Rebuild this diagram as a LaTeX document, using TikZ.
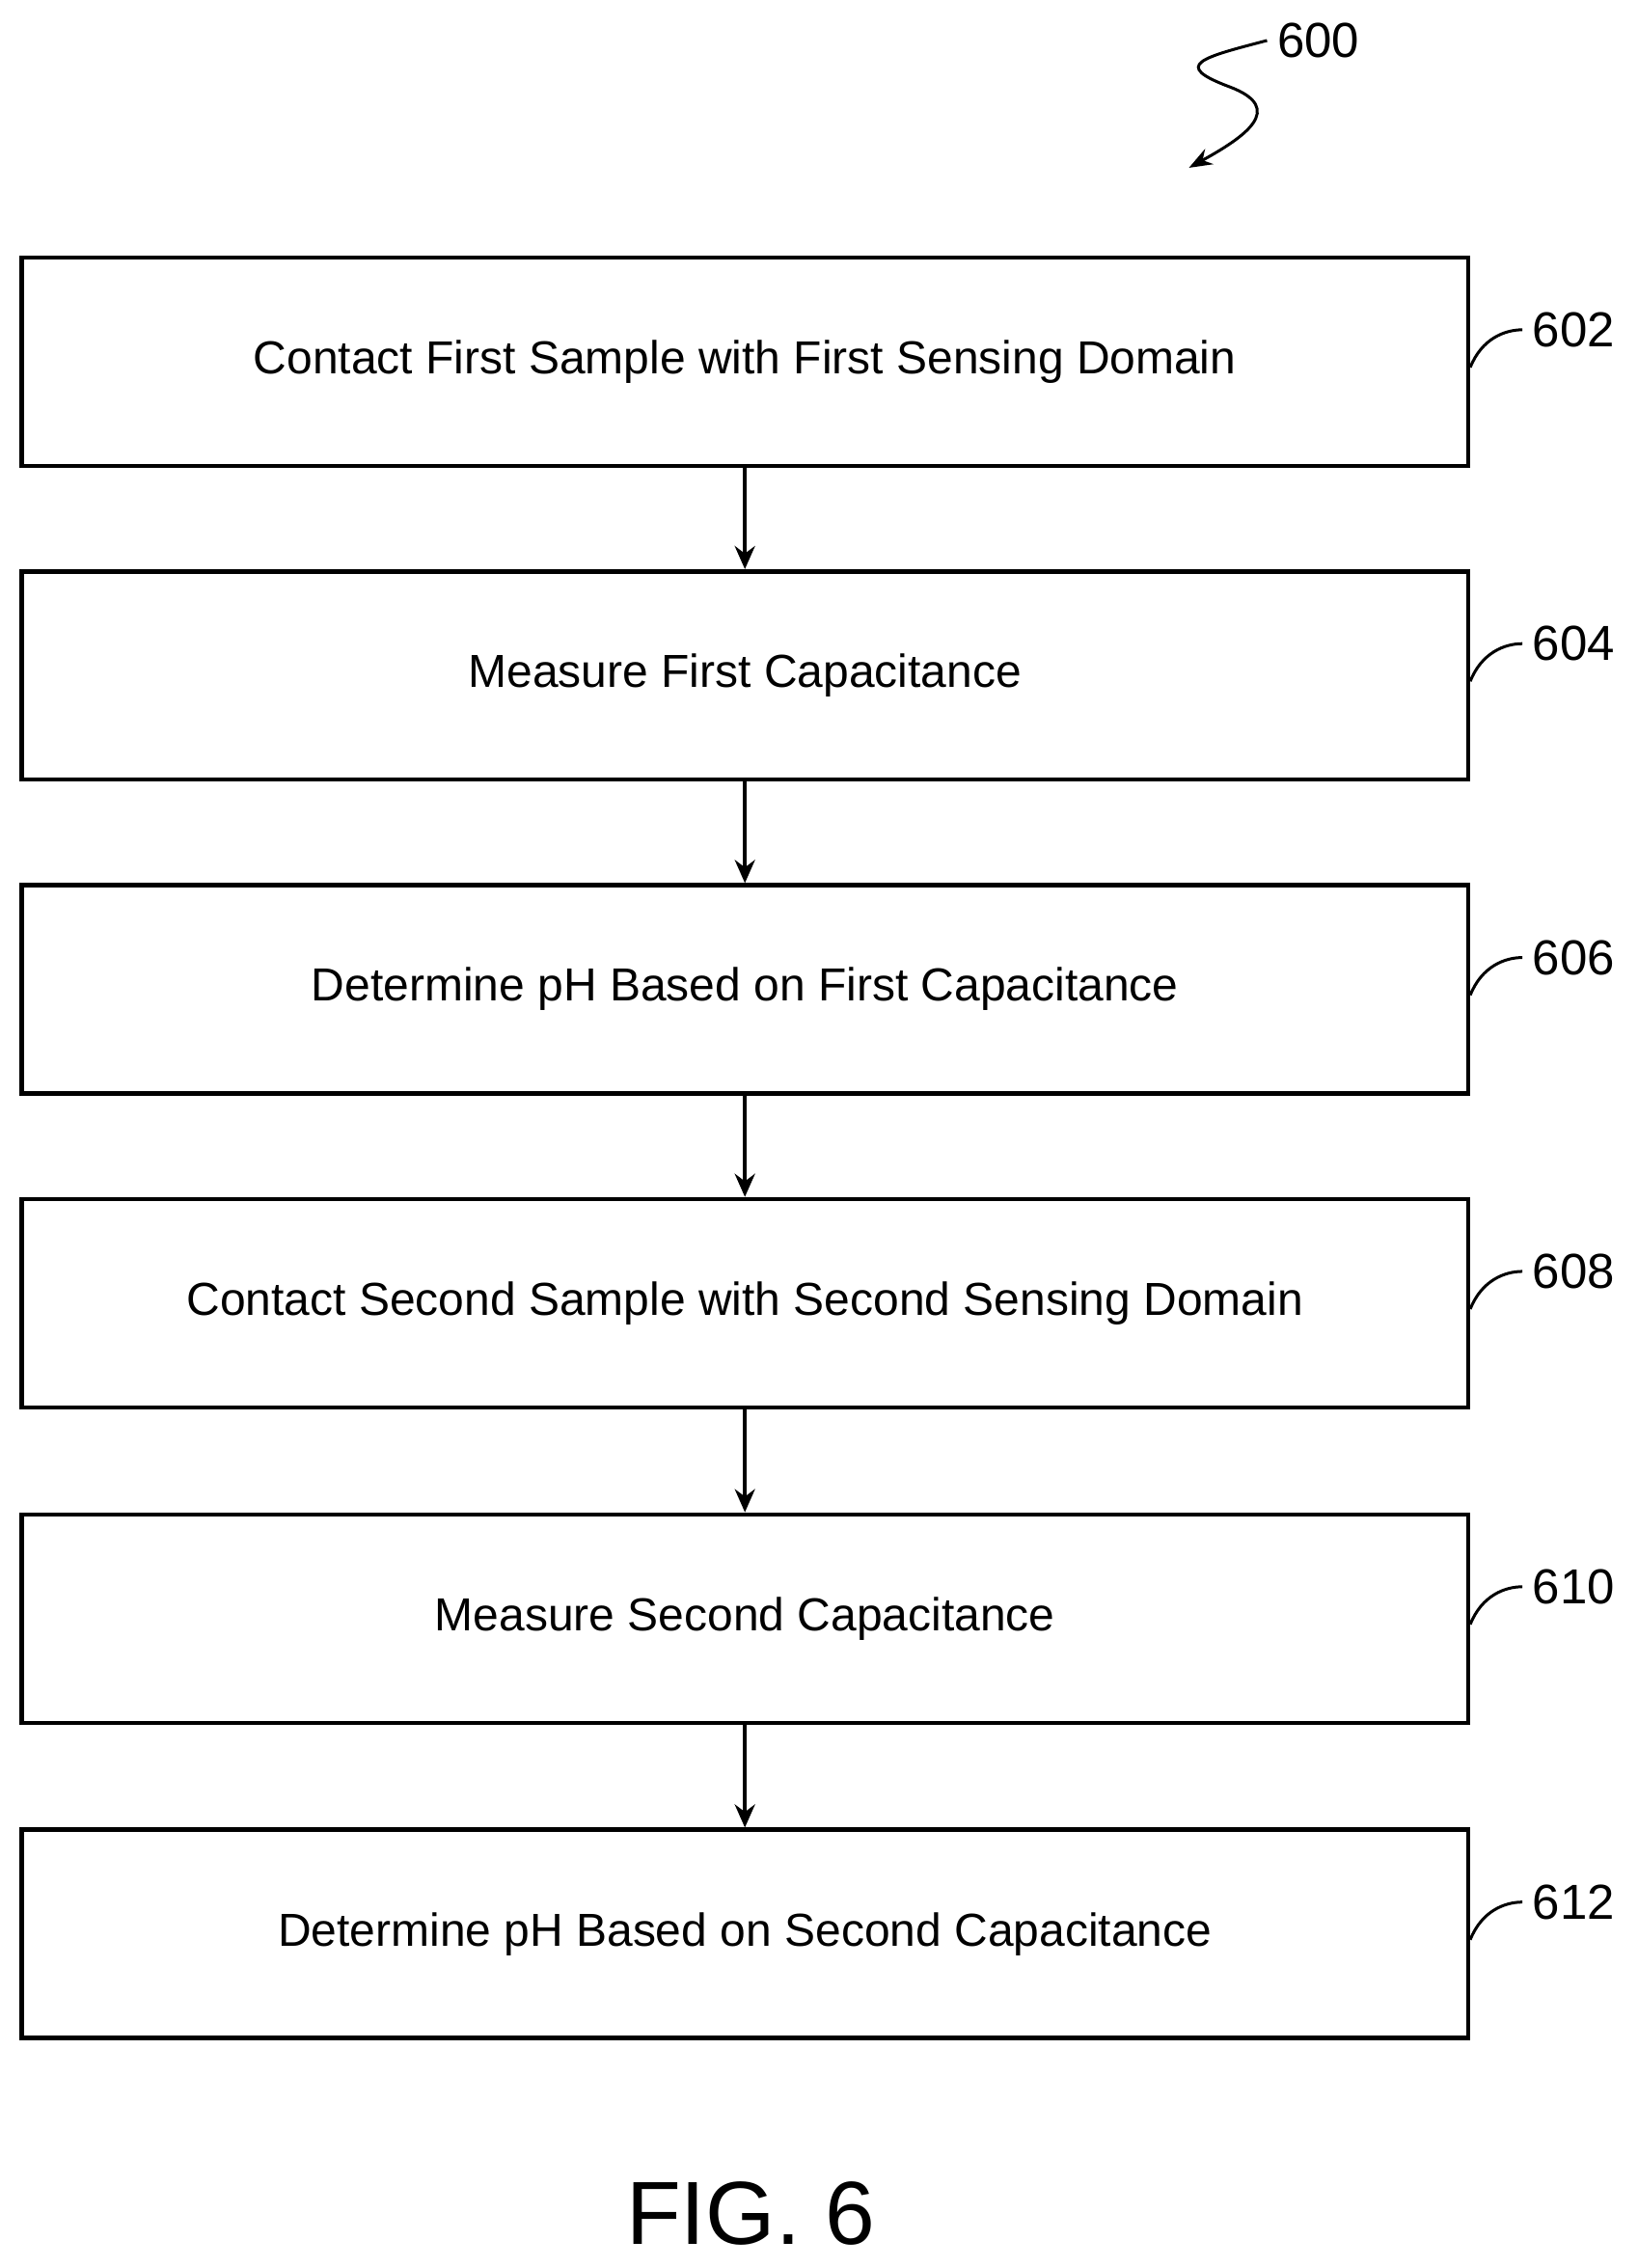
\documentclass[tikz,border=0pt]{standalone}
\usepackage{fontspec}
\setmainfont{Liberation Sans}
\usetikzlibrary{arrows.meta,positioning}
\begin{document}
\begin{tikzpicture}[
        x=0.5pt, y=-0.5pt,
        stepbox/.style={rectangle, draw=black, line width=1.5pt, minimum width=500pt, minimum height=72pt, inner sep=0pt, font=\fontsize{16}{19}\selectfont},
        flow/.style={-{Stealth[length=8pt,width=7pt]}, line width=1.2pt},
        ref/.style={font=\fontsize{17}{20}\selectfont, anchor=west},
        lead/.style={line width=1pt}
    ]
    \useasboundingbox (0,0) rectangle (1132,1568);

    % Steps
    \node[stepbox] (contact1) at (515,250) {Contact First Sample with First Sensing Domain};
    \node[stepbox] (measure1) at (515,467) {Measure First Capacitance};
    \node[stepbox] (ph1) at (515,684) {Determine pH Based on First Capacitance};
    \node[stepbox] (contact2) at (515,901) {Contact Second Sample with Second Sensing Domain};
    \node[stepbox] (measure2) at (515,1119) {Measure Second Capacitance};
    \node[stepbox] (ph2) at (515,1337) {Determine pH Based on Second Capacitance};

    % Flows
    \draw[flow] (contact1) -- (measure1);
    \draw[flow] (measure1) -- (ph1);
    \draw[flow] (ph1) -- (contact2);
    \draw[flow] (contact2) -- (measure2);
    \draw[flow] (measure2) -- (ph2);

    % Reference numerals
    \foreach \n/\lbl in {contact1/602, measure1/604, ph1/606, contact2/608, measure2/610, ph2/612}{
        \node[ref] (r\lbl) at ([xshift=18pt,yshift=11pt]\n.east) {\lbl};
        \draw[lead] ([yshift=-2pt]\n.east) .. controls +(4pt,10pt) and +(-6pt,0pt) .. (r\lbl.west);
    }

    % Figure numeral
    \node[ref] (fig) at (876,28) {600};
    \coordinate (tip) at (822,116);
    \draw[lead, -{Stealth[length=8pt,width=6pt]}] (fig.west) .. controls (830,40) and (810,45) .. (850,60) .. controls (890,75) and (860,95) .. (tip);

    \node[font=\fontsize{31}{37}\selectfont] (caption) at (519,1530) {FIG. 6};
\end{tikzpicture}
\end{document}
